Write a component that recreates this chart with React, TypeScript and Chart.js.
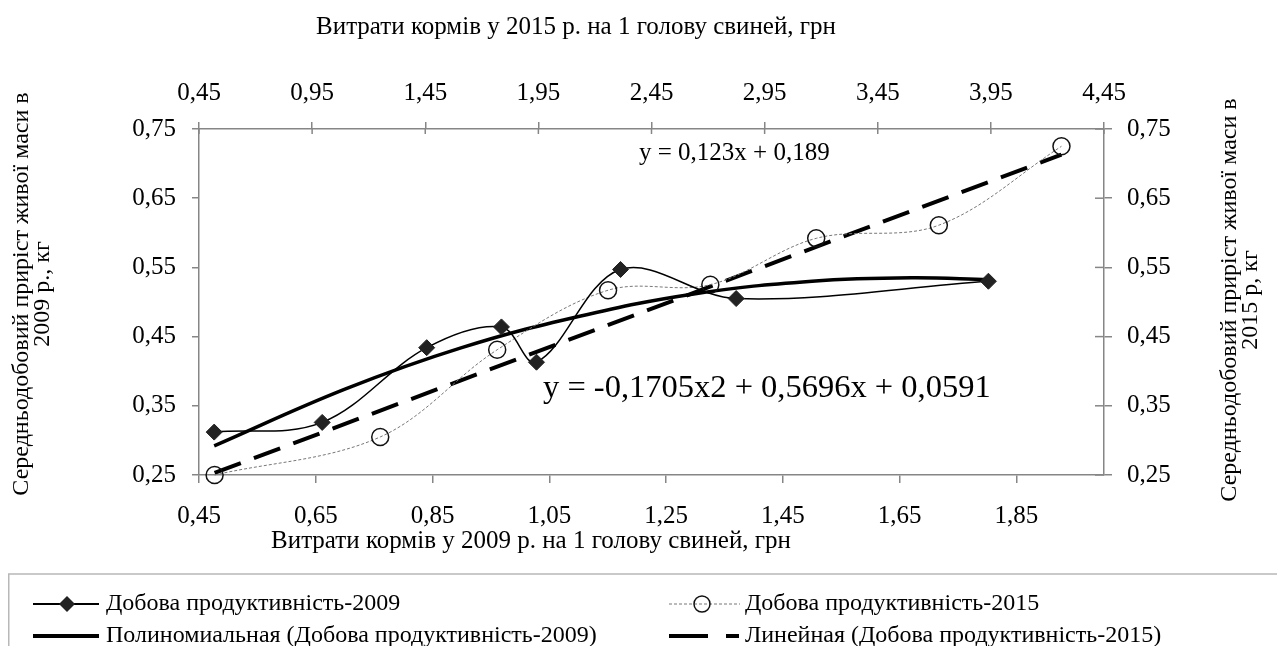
import React, { useEffect, useRef } from "react";
import { Chart, registerables } from "chart.js";

Chart.register(...registerables);

// ---- data ----
const bottomTicks = [0.45, 0.65, 0.85, 1.05, 1.25, 1.45, 1.65, 1.85];
const bottomLabels = ["0,45", "0,65", "0,85", "1,05", "1,25", "1,45", "1,65", "1,85"];
const topTicks = [0.45, 0.95, 1.45, 1.95, 2.45, 2.95, 3.45, 3.95, 4.45];
const topLabels = ["0,45", "0,95", "1,45", "1,95", "2,45", "2,95", "3,45", "3,95", "4,45"];
const yTicks = [0.25, 0.35, 0.45, 0.55, 0.65, 0.75];
const yLabels = ["0,25", "0,35", "0,45", "0,55", "0,65", "0,75"];

const x2009 = [0.476, 0.661, 0.84, 0.968, 1.028, 1.172, 1.37, 1.802];
const y2009 = [0.312, 0.326, 0.434, 0.464, 0.413, 0.547, 0.505, 0.53];
const x2015 = [0.519, 1.251, 1.768, 2.258, 2.71, 3.178, 3.72, 4.262];
const y2015 = [0.25, 0.305, 0.431, 0.517, 0.525, 0.592, 0.611, 0.725];
const xPoly = [0.476, 0.7, 0.9, 1.1, 1.3, 1.5, 1.67, 1.802];
const yPoly = [0.292, 0.374, 0.434, 0.479, 0.512, 0.53, 0.535, 0.532];
const xLin = [0.519, 4.262];
const yLin = [0.253, 0.713];

const seriesNames = [
  "Добова продуктивність-2009",
  "Добова продуктивність-2015",
  "Полиномиальная (Добова продуктивність-2009)",
  "Линейная (Добова продуктивність-2015)",
];
const topTitle = "Витрати кормів у 2015 р. на 1 голову свиней, грн";
const bottomTitle = "Витрати кормів у 2009 р. на 1 голову свиней, грн";
const leftTitle = ["Середньодобовий приріст живої маси в", "2009 р., кг"];
const rightTitle = ["Середньодобовий приріст живої маси в", "2015 р, кг"];
const eqLinear = "y = 0,123x + 0,189";
const eqPoly = "y = -0,1705x2 + 0,5696x + 0,0591";

const FONT = "'Liberation Serif', 'Times New Roman', serif";
const AXIS_COLOR = "#868686";
const TEXT_COLOR = "#000";

const zip = (xs: number[], ys: number[]) => xs.map((x, i) => ({ x, y: ys[i] }));

function drawDiamond(ctx: CanvasRenderingContext2D, x: number, y: number, r: number) {
  ctx.beginPath();
  ctx.moveTo(x, y - r);
  ctx.lineTo(x + r, y);
  ctx.lineTo(x, y + r);
  ctx.lineTo(x - r, y);
  ctx.closePath();
  ctx.fillStyle = "#222";
  ctx.fill();
}

const extraPlugin = {
  id: "extraText",
  afterDraw(chart: any) {
    const ctx: CanvasRenderingContext2D = chart.ctx;
    const area = chart.chartArea;
    ctx.save();

    // inward tick marks for secondary axes (cross ticks)
    ctx.strokeStyle = AXIS_COLOR;
    ctx.lineWidth = 1.5;
    const sx2 = chart.scales.x2;
    topTicks.forEach((v) => {
      const px = sx2.getPixelForValue(v);
      ctx.beginPath();
      ctx.moveTo(px, area.top);
      ctx.lineTo(px, area.top + 5);
      ctx.stroke();
    });
    const sy2 = chart.scales.y2;
    yTicks.forEach((v) => {
      const py = sy2.getPixelForValue(v);
      ctx.beginPath();
      ctx.moveTo(area.right - 9, py);
      ctx.lineTo(area.right, py);
      ctx.stroke();
    });

    ctx.fillStyle = TEXT_COLOR;
    ctx.textBaseline = "middle";
    ctx.textAlign = "center";
    ctx.font = `25px ${FONT}`;
    ctx.fillText(topTitle, 568, 19);
    ctx.fillText(bottomTitle, 523, 533);

    const rot = (lines: string[], xs: number[], cy: number) => {
      lines.forEach((t, i) => {
        ctx.save();
        ctx.translate(xs[i], cy);
        ctx.rotate(-Math.PI / 2);
        ctx.fillText(t, 0, 0);
        ctx.restore();
      });
    };
    ctx.font = `24px ${FONT}`;
    rot(leftTitle, [14, 35], 286);
    rot(rightTitle, [1222, 1243], 292);

    // equations
    ctx.textAlign = "left";
    ctx.font = `25px ${FONT}`;
    ctx.fillText(eqLinear, 631, 145);
    ctx.font = `32.5px ${FONT}`;
    ctx.fillText(eqPoly, 535, 380);

    // legend box
    ctx.strokeStyle = "#b8b8b8";
    ctx.lineWidth = 1.5;
    ctx.strokeRect(0.75, 566, chart.width + 10, 100);

    const r1 = 596;
    const r2 = 628;
    ctx.font = `24px ${FONT}`;
    ctx.fillStyle = TEXT_COLOR;
    // row1 col1
    ctx.strokeStyle = "#000";
    ctx.lineWidth = 2;
    ctx.setLineDash([]);
    ctx.beginPath();
    ctx.moveTo(25, r1);
    ctx.lineTo(91, r1);
    ctx.stroke();
    drawDiamond(ctx, 59, r1, 8);
    ctx.fillStyle = TEXT_COLOR;
    ctx.fillText(seriesNames[0], 98, r1);
    // row1 col2
    ctx.strokeStyle = "#777";
    ctx.lineWidth = 1;
    ctx.setLineDash([3, 2]);
    ctx.beginPath();
    ctx.moveTo(661, r1);
    ctx.lineTo(732, r1);
    ctx.stroke();
    ctx.setLineDash([]);
    ctx.strokeStyle = "#111";
    ctx.lineWidth = 1.5;
    ctx.beginPath();
    ctx.arc(694, r1, 8, 0, Math.PI * 2);
    ctx.stroke();
    ctx.fillText(seriesNames[1], 737, r1);
    // row2 col1
    ctx.strokeStyle = "#000";
    ctx.lineWidth = 4;
    ctx.beginPath();
    ctx.moveTo(25, r2);
    ctx.lineTo(91, r2);
    ctx.stroke();
    ctx.fillText(seriesNames[2], 98, r2);
    // row2 col2
    ctx.beginPath();
    ctx.moveTo(661, r2);
    ctx.lineTo(700, r2);
    ctx.moveTo(718, r2);
    ctx.lineTo(731, r2);
    ctx.stroke();
    ctx.fillText(seriesNames[3], 737, r2);

    ctx.restore();
  },
};

function axisCommon(tickList: number[], labels: string[], tickLength: number, padding: number) {
  return {
    type: "linear" as const,
    afterBuildTicks: (scale: any) => {
      scale.ticks = tickList.map((v) => ({ value: v }));
    },
    grid: {
      drawOnChartArea: false,
      drawTicks: true,
      tickLength,
      color: AXIS_COLOR,
      lineWidth: 1.5,
    },
    border: { color: AXIS_COLOR, width: 1.5 },
    ticks: {
      autoSkip: false,
      maxRotation: 0,
      padding,
      color: TEXT_COLOR,
      font: { family: FONT, size: 25 },
      callback: (_v: any, i: number) => labels[i],
    },
  };
}

export default function App() {
  const ref = useRef<HTMLCanvasElement | null>(null);
  useEffect(() => {
    if (!ref.current) return;
    const chart = new Chart(ref.current, {
      type: "scatter",
      data: {
        datasets: [
          {
            label: seriesNames[0],
            data: zip(x2009, y2009),
            xAxisID: "x",
            yAxisID: "y",
            showLine: true,
            tension: 0.35,
            borderColor: "#000",
            borderWidth: 1.5,
            pointStyle: "rectRot",
            pointRadius: 8,
            pointBackgroundColor: "#222",
            pointBorderColor: "#222",
            pointBorderWidth: 1,
            order: 0,
            clip: false,
          },
          {
            label: seriesNames[1],
            data: zip(x2015, y2015),
            xAxisID: "x2",
            yAxisID: "y2",
            showLine: true,
            tension: 0.35,
            borderColor: "#777",
            borderWidth: 1,
            borderDash: [3, 2],
            pointStyle: "circle",
            pointRadius: 8.5,
            pointBackgroundColor: "rgba(0,0,0,0)",
            pointBorderColor: "#111",
            pointBorderWidth: 1.5,
            order: 1,
            clip: false,
          },
          {
            label: seriesNames[2],
            data: zip(xPoly, yPoly),
            xAxisID: "x",
            yAxisID: "y",
            showLine: true,
            tension: 0.4,
            borderColor: "#000",
            borderWidth: 3.5,
            pointRadius: 0,
            order: 2,
            clip: false,
          },
          {
            label: seriesNames[3],
            data: zip(xLin, yLin),
            xAxisID: "x2",
            yAxisID: "y2",
            showLine: true,
            borderColor: "#000",
            borderWidth: 4,
            borderDash: [28, 14],
            pointRadius: 0,
            order: 3,
            clip: false,
          },
        ],
      },
      options: {
        responsive: false,
        animation: false,
        devicePixelRatio: 1,
        layout: { padding: 0 },
        plugins: {
          legend: { display: false },
          title: { display: false },
          tooltip: { enabled: false },
        },
        scales: {
          x: {
            ...axisCommon(bottomTicks, bottomLabels, 8, 18),
            position: "bottom",
            min: 0.45,
            max: 2.0,
            afterFit: (s: any) => {
              s.height = 171;
            },
          },
          x2: {
            ...axisCommon(topTicks, topLabels, 7, 14),
            position: "top",
            min: 0.45,
            max: 4.45,
            afterFit: (s: any) => {
              s.height = 121;
            },
          },
          y: {
            ...axisCommon(yTicks, yLabels, 7, 16),
            position: "left",
            min: 0.25,
            max: 0.75,
            afterFit: (s: any) => {
              s.width = 191;
            },
          },
          y2: {
            ...axisCommon(yTicks, yLabels, 8, 15),
            position: "right",
            min: 0.25,
            max: 0.75,
            afterFit: (s: any) => {
              s.width = 173;
            },
          },
        },
      } as any,
      plugins: [extraPlugin],
    });
    return () => chart.destroy();
  }, []);

  return (
    <div style={{ width: 1269, height: 638 }}>
      <canvas ref={ref} width={1269} height={638} style={{ display: "block" }} />
    </div>
  );
}
